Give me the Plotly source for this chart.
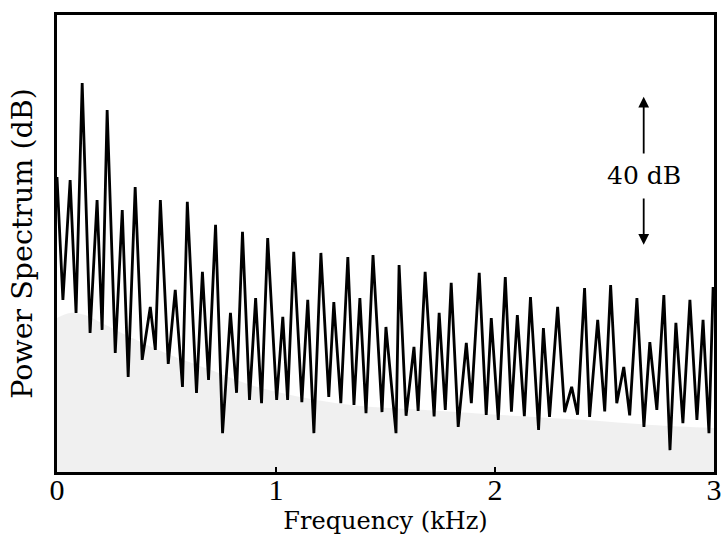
import plotly.graph_objects as go

# Spectrum: alternating peak / trough points (frequency in kHz, level in dB, arbitrary reference)
freq_khz = [0.000, 0.027, 0.060, 0.087, 0.115, 0.151, 0.183, 0.206, 0.229, 0.266,
            0.298, 0.325, 0.357, 0.389, 0.426, 0.449, 0.472, 0.508, 0.540, 0.573,
            0.595, 0.637, 0.664, 0.692, 0.724, 0.756, 0.792, 0.820, 0.847, 0.879,
            0.907, 0.934, 0.962, 1.003, 1.031, 1.053, 1.081, 1.118, 1.145, 1.173,
            1.205, 1.241, 1.264, 1.296, 1.328, 1.356, 1.383, 1.411, 1.443, 1.484,
            1.502, 1.548, 1.562, 1.594, 1.630, 1.649, 1.681, 1.722, 1.745, 1.773,
            1.800, 1.832, 1.869, 1.892, 1.928, 1.960, 1.983, 2.015, 2.047, 2.075,
            2.102, 2.134, 2.162, 2.199, 2.221, 2.249, 2.286, 2.318, 2.350, 2.377,
            2.409, 2.432, 2.469, 2.501, 2.528, 2.556, 2.588, 2.615, 2.648, 2.680,
            2.707, 2.739, 2.771, 2.799, 2.826, 2.858, 2.890, 2.922, 2.950, 2.977,
            2.996]
level_db = [79.7, 46.5, 78.9, 43.0, 105.1, 37.6, 73.5, 38.4, 97.8, 32.2,
            70.8, 25.7, 77.0, 30.3, 44.6, 33.0, 73.5, 29.2, 49.2, 23.0,
            73.0, 21.4, 54.1, 24.9, 66.8, 10.5, 43.0, 21.4, 64.9, 19.5,
            47.0, 18.6, 63.2, 19.5, 41.9, 19.5, 59.5, 18.9, 46.5, 10.5,
            59.2, 20.3, 45.9, 18.6, 58.1, 18.1, 47.0, 15.9, 58.6, 16.2,
            39.2, 10.5, 55.9, 15.2, 33.8, 16.5, 54.1, 15.0, 43.0, 16.8,
            51.1, 12.2, 34.9, 18.6, 53.8, 15.4, 41.6, 14.1, 52.7, 16.3,
            42.4, 15.1, 47.3, 11.4, 38.9, 14.9, 44.6, 16.2, 23.0, 15.5,
            49.7, 14.9, 41.1, 16.4, 50.5, 18.6, 28.4, 15.3, 47.0, 12.2,
            35.1, 16.8, 47.8, 5.9, 40.3, 13.2, 46.5, 14.1, 41.1, 10.5,
            50.0]

# Background noise floor (stippled grey region)
noise_khz = [0.000, 0.060, 0.128, 0.197, 0.334, 0.518, 0.701, 0.884, 1.067, 1.342,
             1.663, 2.029, 2.396, 2.716, 3.000]
noise_db = [41.6, 43.0, 42.4, 40.5, 36.5, 31.6, 27.6, 23.5, 20.8, 18.1,
            16.8, 15.4, 14.1, 12.7, 11.9]

x_ticks = [0, 1, 2, 3]
x_tick_labels = ["0", "1", "2", "3"]

serif = "DejaVu Serif"
digits = "Liberation Serif"

fig = go.Figure()
fig.add_trace(go.Scatter(x=noise_khz, y=noise_db, mode="lines",
                         line=dict(color="rgba(0,0,0,0)", width=0, shape="spline"),
                         fill="tozeroy", fillcolor="rgba(120,120,120,0.11)",
                         hoverinfo="skip", showlegend=False))
fig.add_trace(go.Scatter(x=freq_khz, y=level_db, mode="lines",
                         line=dict(color="black", width=2.8),
                         showlegend=False))

# 40 dB scale bar
bar_x = 2.679
fig.add_annotation(x=bar_x, y=101.4, ax=bar_x, ay=85.7, xref="x", yref="y",
                   axref="x", ayref="y", text="", showarrow=True,
                   arrowhead=2, arrowsize=1.2, arrowwidth=1.8, arrowcolor="black")
fig.add_annotation(x=bar_x, y=61.4, ax=bar_x, ay=74.3, xref="x", yref="y",
                   axref="x", ayref="y", text="", showarrow=True,
                   arrowhead=2, arrowsize=1.2, arrowwidth=1.8, arrowcolor="black")
fig.add_annotation(x=bar_x, y=80.0, xref="x", yref="y", text="40 dB",
                   showarrow=False, font=dict(family=serif, size=25, color="black"))

fig.update_layout(
    width=724, height=542,
    margin=dict(l=57, r=10, t=15, b=70, autoexpand=False),
    paper_bgcolor="white", plot_bgcolor="white",
    font=dict(family=serif, color="black"),
    xaxis=dict(range=[0, 3], tickvals=x_ticks, ticktext=x_tick_labels,
               ticks="inside", ticklen=5, tickwidth=2, tickcolor="black",
               ticklabelstandoff=-11,
               showgrid=False, zeroline=False, automargin=False,
               showline=True, linecolor="black", linewidth=3, mirror=True,
               tickfont=dict(family=digits, size=30, color="black"),
               title=dict(text="Frequency (kHz)", standoff=8,
                          font=dict(family=serif, size=24, color="black"))),
    yaxis=dict(range=[0, 123.5], showticklabels=False, ticks="",
               showgrid=False, zeroline=False, automargin=False,
               showline=True, linecolor="black", linewidth=3, mirror=True,
               title=dict(text="Power Spectrum (dB)", standoff=14,
                          font=dict(family=serif, size=28.5, color="black"))),
)

# remove the default 8 px page margin so the figure sits at the window origin
fig.write_html("out.html",
               config={"displayModeBar": False},
               post_script="document.body.style.margin='0';document.body.style.overflow='hidden';")
